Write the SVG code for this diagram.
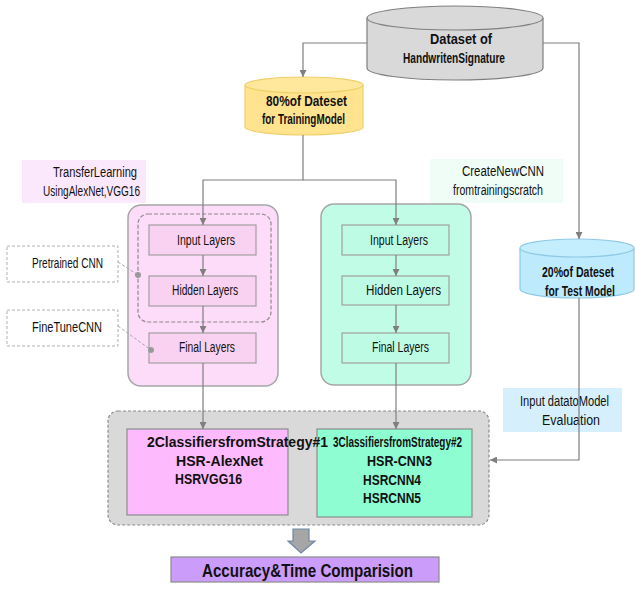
<svg xmlns="http://www.w3.org/2000/svg" width="635" height="592" viewBox="0 0 635 592">
<defs>
<marker id="ah" viewBox="0 0 10 10" refX="10" refY="5" markerWidth="7" markerHeight="7" orient="auto" markerUnits="userSpaceOnUse">
<path d="M0,0 L10,5 L0,10 z" fill="#7f7f7f"/>
</marker>
<style>
text{font-family:"Liberation Sans",Arial,sans-serif;fill:#111;}
.r{font-size:14px}
.b{font-size:14px;font-weight:bold}
.cb{font-size:15px;font-weight:bold}
.ln{fill:none;stroke:#7f7f7f;stroke-width:1.2}
.dl{fill:none;stroke:#a6a6a6;stroke-width:1;stroke-dasharray:3,2}
.lyp{fill:#f9d2f1;stroke:#a0a0a0;stroke-width:1.2}
.lyg{fill:#befbe4;stroke:#a0a0a0;stroke-width:1.2}
</style>
</defs>

<g id="dataset">
<path d="M367,18 V68 A88,12 0 0 0 543,68 V18" fill="#d9d9d9" stroke="#7f7f7f" stroke-width="1.2"/>
<ellipse cx="455" cy="18" rx="88" ry="12" fill="#d9d9d9" stroke="#7f7f7f" stroke-width="1.2"/>
<text class="b" x="430" y="44" textLength="62" lengthAdjust="spacingAndGlyphs">Dataset of</text>
<text class="b" x="403" y="63" textLength="102" lengthAdjust="spacingAndGlyphs">HandwritenSignature</text>
</g>

<g id="train80">
<path d="M245,85 V127 A59,8 0 0 0 363,127 V85" fill="#ffe38f" stroke="#f0cf6a" stroke-width="1.2"/>
<ellipse cx="304" cy="85" rx="59" ry="8" fill="#ffe79c" stroke="#f0cf6a" stroke-width="1.2"/>
<text class="b" x="266" y="106" textLength="81" lengthAdjust="spacingAndGlyphs">80%of Dateset</text>
<text class="b" x="262" y="124" textLength="83" lengthAdjust="spacingAndGlyphs">for TrainingModel</text>
</g>

<g id="test20">
<path d="M520,248 V289 A57,9 0 0 0 634,289 V248" fill="#bdebfd" stroke="#8fc9e6" stroke-width="1.2"/>
<ellipse cx="577" cy="248" rx="57" ry="9" fill="#c4eefd" stroke="#8fc9e6" stroke-width="1.2"/>
<text class="b" x="542" y="277" textLength="72" lengthAdjust="spacingAndGlyphs">20%of Dateset</text>
<text class="b" x="545" y="296" textLength="70" lengthAdjust="spacingAndGlyphs">for Test Model</text>
</g>

<g id="label-transfer">
<rect x="22" y="160" width="124" height="43" fill="#fce8fc"/>
<text class="r" x="53" y="177" textLength="84" lengthAdjust="spacingAndGlyphs">TransferLearning</text>
<text class="r" x="43" y="196" textLength="97" lengthAdjust="spacingAndGlyphs">UsingAlexNet,VGG16</text>
</g>

<g id="label-create">
<rect x="430" y="159" width="133" height="44" fill="#effdf6"/>
<text class="r" x="462" y="176" textLength="82" lengthAdjust="spacingAndGlyphs">CreateNewCNN</text>
<text class="r" x="453" y="195" textLength="90" lengthAdjust="spacingAndGlyphs">fromtrainingscratch</text>
</g>

<g id="strategy1">
<rect x="128" y="205" width="150" height="181" rx="13" fill="#fcdcf9" stroke="#a6a6a6" stroke-width="1.5"/>
<rect x="138" y="214" width="133" height="108" rx="10" fill="none" stroke="#8c8c8c" stroke-width="1.2" stroke-dasharray="4,2"/>
</g>
<g id="s1-input"><rect class="lyp" x="149" y="225" width="107" height="30"/><text class="r" x="177" y="245" textLength="58" lengthAdjust="spacingAndGlyphs">Input Layers</text></g>
<g id="s1-hidden"><rect class="lyp" x="149" y="276" width="107" height="30"/><text class="r" x="172" y="295" textLength="66" lengthAdjust="spacingAndGlyphs">Hidden Layers</text></g>
<g id="s1-final"><rect class="lyp" x="149" y="333" width="107" height="30"/><text class="r" x="179" y="352" textLength="56" lengthAdjust="spacingAndGlyphs">Final Layers</text></g>

<g id="strategy2">
<rect x="321" y="204" width="150" height="181" rx="13" fill="#c0fce6" stroke="#a6a6a6" stroke-width="1.5"/>
</g>
<g id="s2-input"><rect class="lyg" x="342" y="225" width="107" height="30"/><text class="r" x="370" y="245" textLength="58" lengthAdjust="spacingAndGlyphs">Input Layers</text></g>
<g id="s2-hidden"><rect class="lyg" x="342" y="276" width="107" height="29"/><text class="r" x="366" y="295" textLength="75" lengthAdjust="spacingAndGlyphs">Hidden Layers</text></g>
<g id="s2-final"><rect class="lyg" x="342" y="333" width="107" height="30"/><text class="r" x="372" y="352" textLength="57" lengthAdjust="spacingAndGlyphs">Final Layers</text></g>

<g id="pretrained">
<rect x="7" y="246" width="111" height="36" fill="none" stroke="#b0b0b0" stroke-dasharray="3,2"/>
<text class="r" x="32" y="268" textLength="71" lengthAdjust="spacingAndGlyphs">Pretrained CNN</text>
<path class="dl" d="M118,262 L138,275"/>
<circle cx="138" cy="275" r="3" fill="#9a9a9a"/>
</g>
<g id="finetune">
<rect x="7" y="310" width="111" height="36" fill="none" stroke="#b0b0b0" stroke-dasharray="3,2"/>
<text class="r" x="32" y="332" textLength="70" lengthAdjust="spacingAndGlyphs">FineTuneCNN</text>
<path class="dl" d="M118,326 L151,350"/>
<circle cx="151" cy="350" r="3" fill="#9a9a9a"/>
</g>

<g id="label-eval">
<rect x="503" y="388" width="119" height="44" fill="#d5f0fc"/>
<text class="r" x="520" y="406" textLength="89" lengthAdjust="spacingAndGlyphs">Input datatoModel</text>
<text class="r" x="542" y="425" textLength="58" lengthAdjust="spacingAndGlyphs">Evaluation</text>
</g>

<g id="classifiers">
<rect x="108" y="411" width="381" height="114" rx="10" fill="#d9d9d9" stroke="#8c8c8c" stroke-width="1.2" stroke-dasharray="3,2"/>
</g>
<g id="classifiers2">
<rect x="317" y="429" width="155" height="88" fill="#8efdd2" stroke="#8c8c8c" stroke-width="1.2"/>
<text class="cb" x="333" y="447" textLength="129" lengthAdjust="spacingAndGlyphs">3ClassifiersfromStrategy#2</text>
<text class="cb" x="367" y="466" textLength="65" lengthAdjust="spacingAndGlyphs">HSR-CNN3</text>
<text class="cb" x="363" y="485" textLength="58" lengthAdjust="spacingAndGlyphs">HSRCNN4</text>
<text class="cb" x="363" y="503" textLength="58" lengthAdjust="spacingAndGlyphs">HSRCNN5</text>
</g>
<g id="classifiers1">
<rect x="127" y="429" width="161" height="86" fill="#fdbafd" stroke="#8c8c8c" stroke-width="1.2"/>
<text class="cb" x="147" y="447" textLength="181" lengthAdjust="spacingAndGlyphs">2ClassifiersfromStrategy#1</text>
<text class="cb" x="176" y="466" textLength="87" lengthAdjust="spacingAndGlyphs">HSR-AlexNet</text>
<text class="cb" x="175" y="484" textLength="67" lengthAdjust="spacingAndGlyphs">HSRVGG16</text>
</g>

<g id="block-arrow">
<path d="M293,529 H309 V541 H315 L301,553 L288,541 H293 Z" fill="#a6a6a6" stroke="#6f87a6" stroke-width="1.2"/>
</g>

<g id="accuracy">
<rect x="171" y="557" width="268" height="25" fill="#cb9cfa" stroke="#8c8c8c" stroke-width="1.2"/>
<text x="202" y="577" font-size="19" font-weight="bold" textLength="211" lengthAdjust="spacingAndGlyphs">Accuracy&amp;Time Comparision</text>
</g>

<g id="connectors">
<path class="ln" d="M367,43 H303 V77" marker-end="url(#ah)"/>
<path class="ln" d="M543,43 H579 V239" marker-end="url(#ah)"/>
<path class="ln" d="M303,135 V180 H203 V225" marker-end="url(#ah)"/>
<path class="ln" d="M303,180 H396 V225" marker-end="url(#ah)"/>
<path class="ln" d="M203,255 V276" marker-end="url(#ah)"/>
<path class="ln" d="M203,306 V333" marker-end="url(#ah)"/>
<path class="ln" d="M396,255 V276" marker-end="url(#ah)"/>
<path class="ln" d="M396,305 V333" marker-end="url(#ah)"/>
<path class="ln" d="M203,363 V429" marker-end="url(#ah)"/>
<path class="ln" d="M396,363 V429" marker-end="url(#ah)"/>
<path class="ln" d="M579,298 V460 H490" marker-end="url(#ah)"/>
</g>
</svg>
